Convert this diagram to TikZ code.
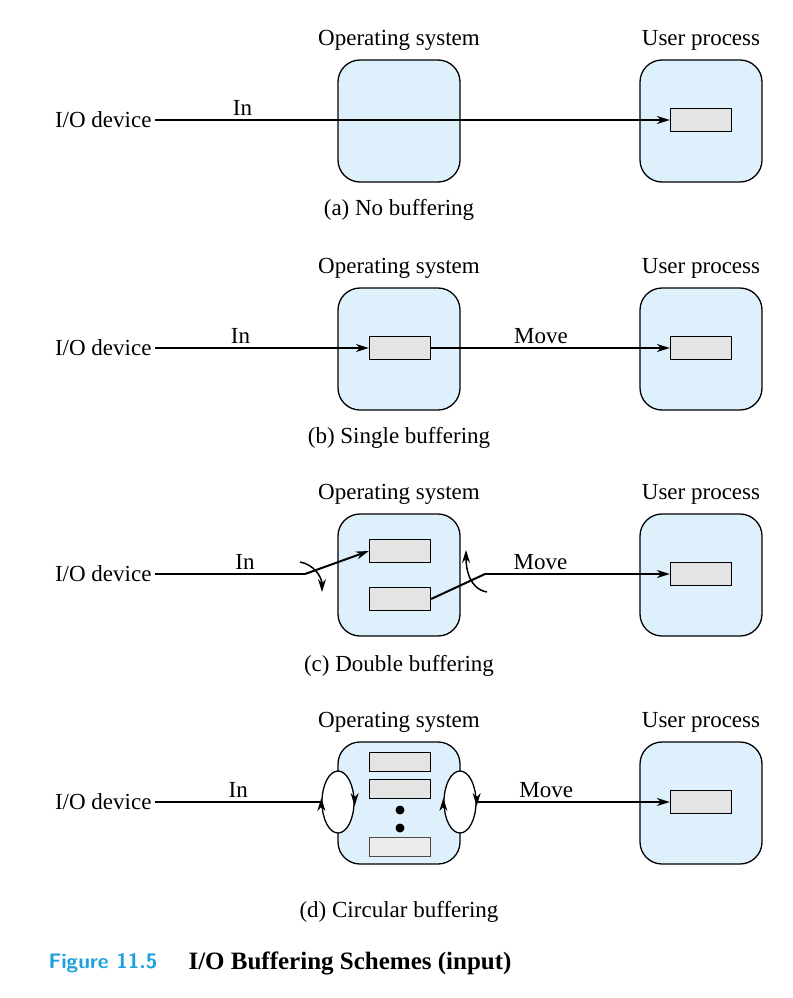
\documentclass[tikz,border=0pt]{standalone}
\usepackage{fontspec}
\setmainfont{Liberation Serif}
\usetikzlibrary{arrows.meta, positioning, shapes.geometric}
\definecolor{boxblue}{RGB}{222,240,252}
\definecolor{bufgray}{RGB}{228,228,228}
\definecolor{figcyan}{RGB}{30,160,220}

\begin{document}
\begin{tikzpicture}[x=1pt,y=-1pt,font=\fontsize{23}{27}\selectfont,>={Stealth[length=13pt,width=8pt]}]
    \tikzstyle{area}=[draw,line width=1.3pt,fill=boxblue,rounded corners=22pt,minimum width=122pt,minimum height=122pt]
    \tikzstyle{buffer}=[draw,line width=1.3pt,fill=bufgray,minimum width=61pt,minimum height=23pt,inner sep=0pt]
    \tikzstyle{flow}=[->,line width=2pt]
    \tikzstyle{wire}=[line width=2pt]
    \tikzstyle{ring}=[draw,line width=1.3pt,fill=white,ellipse,minimum width=32pt,minimum height=62pt,inner sep=0pt]
    \useasboundingbox (0,0) rectangle (792,998);

    % (a) no buffering
    \node[area] (OSa) at (399,121) {};
    \node[area] (UPa) at (701,121) {};
    \node at (399,40) {Operating system};
    \node at (701,40) {User process};
    \node[anchor=east] (IOa) at (155,120) {I/O device};
    \node[buffer] (Ua) at (701,120) {};
    \draw[flow] (IOa.east) -- node[above,pos=0.17] {In} (Ua.west);
    \node at (399,210) {(a) No buffering};

    % (b) single buffering
    \node[area] (OSb) at (399,349) {};
    \node[area] (UPb) at (701,349) {};
    \node at (399,268) {Operating system};
    \node at (701,268) {User process};
    \node[anchor=east] (IOb) at (155,348) {I/O device};
    \node[buffer] (Bb) at (400,348) {};
    \node[buffer] (Ub) at (701,348) {};
    \draw[flow] (IOb.east) -- node[above,pos=0.4] {In} (Bb.west);
    \draw[flow] (Bb.east) -- node[above,pos=0.46] {Move} (Ub.west);
    \node at (399,438) {(b) Single buffering};

    % (c) double buffering
    \node[area] (OSc) at (399,575) {};
    \node[area] (UPc) at (701,575) {};
    \node at (399,494) {Operating system};
    \node at (701,494) {User process};
    \node[anchor=east] (IOc) at (155,574) {I/O device};
    \node[buffer] (B1c) at (400,551) {};
    \node[buffer] (B2c) at (400,599) {};
    \node[buffer] (Uc) at (701,574) {};
    \coordinate (Kc) at (305,574);
    \coordinate (Mc) at (485,574);
    \draw[wire] (IOc.east) -- node[above,pos=0.6] {In} (Kc);
    \draw[flow] (Kc) -- (B1c.west);
    \draw[wire] (B2c.east) -- (Mc);
    \draw[flow] (Mc) -- node[above,pos=0.3] {Move} (Uc.west);
    \draw[->,line width=1.5pt] (300,562) to[out=-10,in=90] (322,592);
    \draw[->,line width=1.5pt] (487,592) to[out=170,in=-90] (466,550);
    \node at (399,666) {(c) Double buffering};

    % (d) circular buffering
    \node[area] (OSd) at (399,803) {};
    \node[area] (UPd) at (701,803) {};
    \node at (399,722) {Operating system};
    \node at (701,722) {User process};
    \node[anchor=east] (IOd) at (155,802) {I/O device};
    \node[buffer,minimum height=19pt] (B1d) at (400,762) {};
    \node[buffer,minimum height=19pt] (B2d) at (400,789) {};
    \fill (400,810) circle (4.5pt) (400,828) circle (4.5pt);
    \node[buffer,minimum height=19pt,fill=bufgray!70,draw=black!70] (B3d) at (400,847) {};
    \node[buffer] (Ud) at (701,802) {};
    \node[ring] (Ld) at (338,802) {};
    \node[ring] (Rd) at (460,802) {};
    \draw[->,thick] (Ld.west) ++(0,6) -- ++(0,-10);
    \draw[->,thick] (Ld.east) ++(0,-6) -- ++(0,10);
    \draw[->,thick] (Rd.west) ++(0,6) -- ++(0,-10);
    \draw[->,thick] (Rd.east) ++(0,-6) -- ++(0,10);
    \draw[wire] (IOd.east) -- node[above,pos=0.5] {In} (Ld.west);
    \draw[flow] (Rd.east) -- node[above,pos=0.36] {Move} (Ud.west);
    \node at (399,912) {(d) Circular buffering};

    % caption
    \node[anchor=west,font=\fontsize{21}{25}\selectfont\bfseries\sffamily,text=figcyan] (Fig) at (45,963) {Figure 11.5};
    \node[anchor=west,font=\fontsize{25}{29}\selectfont\bfseries] at (185,963) {I/O Buffering Schemes (input)};
\end{tikzpicture}
\end{document}
